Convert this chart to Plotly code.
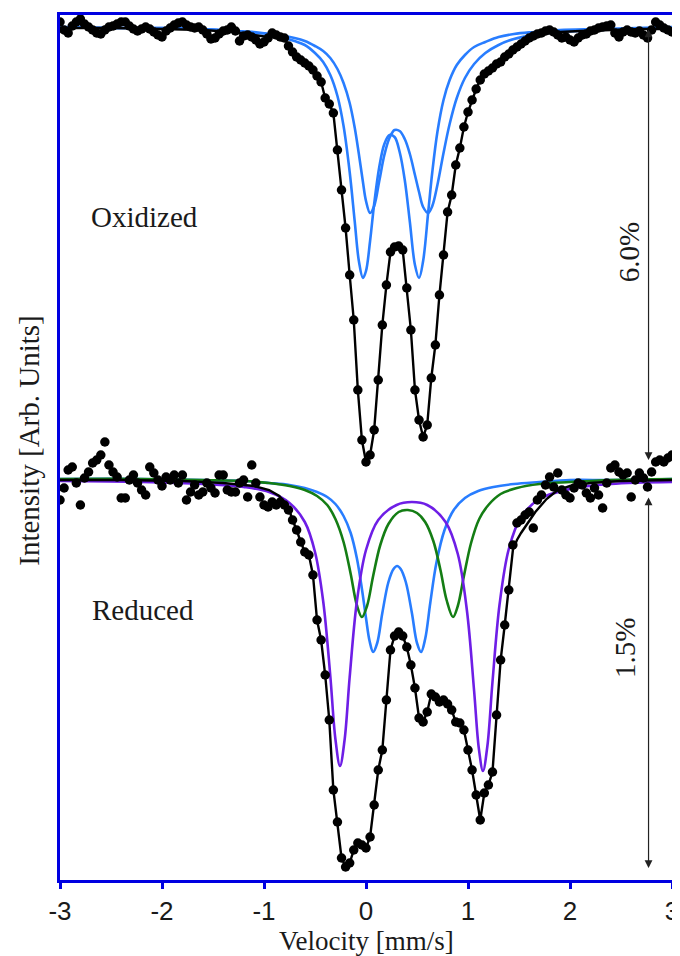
import plotly.graph_objects as go

# ---------------- data ----------------
velocity = [
    -3.00, -2.96, -2.92, -2.88, -2.84, -2.80, -2.76, -2.72, -2.68, -2.64,
    -2.60, -2.56, -2.52, -2.48, -2.44, -2.40, -2.36, -2.32, -2.28, -2.24,
    -2.20, -2.16, -2.12, -2.08, -2.04, -2.00, -1.96, -1.92, -1.88, -1.84,
    -1.80, -1.76, -1.72, -1.68, -1.64, -1.60, -1.56, -1.52, -1.48, -1.44,
    -1.40, -1.36, -1.32, -1.28, -1.24, -1.20, -1.16, -1.12, -1.08, -1.04,
    -1.00, -0.96, -0.92, -0.88, -0.84, -0.80, -0.76, -0.72, -0.68, -0.64,
    -0.60, -0.56, -0.52, -0.48, -0.44, -0.40, -0.36, -0.32, -0.28, -0.24,
    -0.20, -0.16, -0.12, -0.08, -0.04, 0.00, 0.04, 0.08, 0.12, 0.16,
    0.20, 0.24, 0.28, 0.32, 0.36, 0.40, 0.44, 0.48, 0.52, 0.56,
    0.60, 0.64, 0.68, 0.72, 0.76, 0.80, 0.84, 0.88, 0.92, 0.96,
    1.00, 1.04, 1.08, 1.12, 1.16, 1.20, 1.24, 1.28, 1.32, 1.36,
    1.40, 1.44, 1.48, 1.52, 1.56, 1.60, 1.64, 1.68, 1.72, 1.76,
    1.80, 1.84, 1.88, 1.92, 1.96, 2.00, 2.04, 2.08, 2.12, 2.16,
    2.20, 2.24, 2.28, 2.32, 2.36, 2.40, 2.44, 2.48, 2.52, 2.56,
    2.60, 2.64, 2.68, 2.72, 2.76, 2.80, 2.84, 2.88, 2.92, 2.96,
    3.00,
]

# Oxidized spectrum (arb. units, stacked on top)
oxidized = [
    858, 850, 847, 854, 858, 861, 856, 853, 850, 847,
    846, 850, 853, 854, 856, 858, 858, 854, 851, 849,
    851, 853, 851, 848, 845, 843, 849, 852, 855, 857,
    858, 855, 853, 852, 853, 850, 846, 841, 842, 846,
    849, 850, 853, 849, 839, 844, 845, 843, 840, 836,
    838, 842, 847, 845, 843, 842, 834, 828, 823, 820,
    817, 814, 810, 804, 798, 782, 776, 767, 730, 690,
    652, 605, 560, 490, 440, 418, 425, 450, 500, 555,
    595, 628, 633, 634, 630, 592, 550, 490, 460, 443,
    455, 502, 535, 585, 625, 668, 685, 715, 732, 753,
    768, 780, 791, 800, 806, 809, 812, 816, 818, 823,
    826, 830, 833, 836, 839, 842, 844, 846, 847, 849,
    850, 848, 845, 842, 843, 840, 838, 842, 845, 846,
    849, 850, 852, 853, 854, 855, 847, 843, 848, 850,
    848, 847, 849, 845, 842, 850, 858, 855, 852, 850,
    848,
]

# Reduced spectrum (arb. units, stacked below)
reduced = [
    380, 392, 410, 413, 397, 375, 402, 408, 417, 420,
    425, 438, 415, 408, 403, 382, 382, 400, 405, 397,
    390, 385, 413, 407, 400, 394, 403, 400, 405, 397,
    405, 380, 388, 395, 385, 388, 397, 392, 387, 405,
    405, 390, 388, 388, 397, 400, 383, 415, 397, 383,
    375, 373, 378, 375, 378, 375, 370, 360, 350, 338,
    328, 325, 305, 260, 240, 205, 160, 90, 58, 22,
    13, 17, 30, 37, 35, 32, 43, 75, 110, 130,
    180, 230, 244, 248, 244, 233, 215, 192, 162, 158,
    168, 186, 183, 178, 180, 176, 170, 158, 157, 150,
    130, 110, 85, 60, 87, 95, 108, 165, 220, 255,
    290, 335, 357, 360, 365, 368, 352, 380, 385, 395,
    403, 393, 407, 390, 385, 382, 392, 397, 395, 387,
    382, 392, 385, 372, 397, 412, 415, 408, 405, 407,
    383, 400, 407, 402, 393, 408, 418, 420, 418, 422,
    425,
]

# total-fit wings (the fit follows the data inside the absorption region)
ox_fit_left_v = [-3.0, -2.5, -2.0, -1.6, -1.3, -1.1, -0.96, -0.88]
ox_fit_left_y = [852, 852, 851, 850, 848, 845, 843, 843]
ox_fit_right_v = [1.9, 2.1, 2.4, 2.7, 3.0]
ox_fit_right_y = [848, 849, 850, 851, 851]

red_fit_left_v = [-3.0, -2.4, -1.8, -1.4, -1.1, -0.95, -0.85, -0.76]
red_fit_left_y = [400, 400, 399, 397, 394, 390, 384, 372]
red_fit_right_v = [1.44, 1.48, 1.52, 1.58, 1.66, 1.77, 1.88, 2.0, 2.2, 2.5, 3.0]
red_fit_right_y = [330, 340, 347, 356, 368, 381, 390, 394, 397, 399, 400]

# Oxidized sub-spectra (two blue doublets)
ox_comp_v = [-3.0, -2.4, -2.0, -1.6, -1.3, -1.1, -0.95, -0.8, -0.7, -0.6,
             -0.5, -0.42, -0.35, -0.28, -0.22, -0.16, -0.11, -0.07, -0.03, 0.0,
             0.04, 0.08, 0.13, 0.18, 0.23, 0.28, 0.33, 0.38, 0.43, 0.48,
             0.52, 0.56, 0.61, 0.65, 0.70, 0.76, 0.82, 0.89, 0.97, 1.06,
             1.17, 1.3, 1.45, 1.65, 1.9, 2.3, 3.0]
ox_doublet1 = [853, 852, 852, 851, 849, 847, 846, 842, 839, 835,
               827, 818, 805, 784, 754, 708, 658, 619, 602, 609,
               639, 676, 713, 736, 745, 743, 728, 700, 658, 615,
               602, 619, 668, 708, 748, 780, 800, 815, 825, 833,
               838, 843, 846, 848, 850, 851, 853]
ox_doublet2 = [853, 852, 852, 851, 849, 848, 846, 844, 842, 839,
               834, 829, 822, 811, 797, 777, 752, 726, 698, 679,
               667, 674, 699, 725, 742, 750, 749, 741, 726, 705,
               688, 673, 667, 674, 695, 727, 756, 782, 802, 816,
               827, 835, 841, 845, 848, 850, 852]

# Reduced sub-spectra
red_purple_v = [-3.0, -2.2, -1.6, -1.2, -0.95, -0.75, -0.6, -0.5, -0.42, -0.35,
                -0.3, -0.255, -0.21, -0.16, -0.09, 0.0, 0.12, 0.3, 0.45, 0.6,
                0.78, 0.9, 0.99, 1.06, 1.107, 1.147, 1.19, 1.24, 1.31, 1.4,
                1.52, 1.7, 2.0, 2.4, 3.0]
red_purple = [399, 398, 396, 393, 388, 377, 358, 328, 279, 204,
              141, 114, 140, 203, 278, 330, 360, 375, 378, 375,
              358, 326, 269, 189, 131, 109, 134, 198, 276, 331,
              363, 381, 391, 396, 398]

red_green_v = [-3.0, -2.2, -1.6, -1.2, -0.95, -0.75, -0.6, -0.48, -0.38, -0.3,
               -0.22, -0.15, -0.09, -0.04, 0.01, 0.07, 0.14, 0.22, 0.32, 0.41,
               0.5, 0.58, 0.66, 0.73, 0.79, 0.853, 0.9, 0.96, 1.03, 1.11,
               1.2, 1.32, 1.48, 1.7, 2.0, 2.4, 3.0]
red_green = [401, 401, 400, 399, 397, 394, 390, 384, 375, 361,
             338, 306, 275, 263, 274, 304, 335, 356, 368, 370,
             367, 358, 339, 310, 280, 263, 274, 304, 337, 361,
             375, 386, 392, 396, 398, 400, 401]

red_blue_v = [-3.0, -2.2, -1.6, -1.2, -0.95, -0.75, -0.6, -0.48, -0.38, -0.3,
              -0.22, -0.15, -0.09, -0.04, 0.0, 0.035, 0.07, 0.11, 0.16, 0.22,
              0.27, 0.305, 0.34, 0.39, 0.45, 0.5, 0.54, 0.58, 0.63, 0.69,
              0.77, 0.86, 0.97, 1.1, 1.25, 1.45, 1.7, 2.0, 2.4, 3.0]
red_blue = [401, 401, 400, 399, 397, 395, 392, 388, 383, 376,
            364, 347, 322, 291, 262, 239, 228, 237, 267, 298,
            311, 314, 311, 298, 267, 237, 228, 241, 277, 317,
            350, 370, 382, 389, 393, 396, 398, 400, 400, 401]

x_ticks = [-3, -2, -1, 0, 1, 2, 3]

# ---------------- figure ----------------
BLUE_C = "rgb(40,125,255)"
GREEN_C = "rgb(20,125,20)"
PURPLE_C = "rgb(110,30,230)"
FRAME_C = "rgb(0,0,225)"
TXT_C = "#1a1a1a"

i0, i1 = velocity.index(-0.80), velocity.index(1.80)
ox_fit_v = ox_fit_left_v + velocity[i0:i1 + 1] + ox_fit_right_v
ox_fit_y = ox_fit_left_y + oxidized[i0:i1 + 1] + ox_fit_right_y

j0, j1 = velocity.index(-0.72), velocity.index(1.40)
red_fit_v = red_fit_left_v + velocity[j0:j1 + 1] + red_fit_right_v
red_fit_y = red_fit_left_y + reduced[j0:j1 + 1] + red_fit_right_y

fig = go.Figure()

def comp(xv, yv, color):
    fig.add_trace(go.Scatter(x=xv, y=yv, mode="lines",
                             line=dict(color=color, width=2.6, shape="spline"),
                             hoverinfo="skip", showlegend=False))

comp(ox_comp_v, ox_doublet1, BLUE_C)
comp(ox_comp_v, ox_doublet2, BLUE_C)
comp(red_blue_v, red_blue, BLUE_C)
comp(red_green_v, red_green, GREEN_C)
comp(red_purple_v, red_purple, PURPLE_C)

for fv, fy in [(ox_fit_v, ox_fit_y), (red_fit_v, red_fit_y)]:
    fig.add_trace(go.Scatter(x=fv, y=fy, mode="lines",
                             line=dict(color="black", width=2.4),
                             showlegend=False))

for yy in [oxidized, reduced]:
    fig.add_trace(go.Scatter(x=velocity, y=yy, mode="markers",
                             marker=dict(color="black", size=9.5),
                             showlegend=False))

serif = "Liberation Serif, Times New Roman, serif"
sans = "Liberation Sans, Arial, sans-serif"

annotations = [
    dict(x=-2.17, y=663, xref="x", yref="y", text="Oxidized", showarrow=False,
         font=dict(family=serif, size=29, color=TXT_C)),
    dict(x=-2.19, y=270, xref="x", yref="y", text="Reduced", showarrow=False,
         font=dict(family=serif, size=29, color=TXT_C)),
    dict(x=2.58, y=628, xref="x", yref="y", text="6.0%", showarrow=False,
         textangle=-90, font=dict(family=serif, size=29, color=TXT_C)),
    dict(x=2.54, y=232, xref="x", yref="y", text="1.5%", showarrow=False,
         textangle=-90, font=dict(family=serif, size=29, color=TXT_C)),
    dict(x=0.5, y=-0.0705, xref="paper", yref="paper", text="Velocity [mm/s]",
         showarrow=False, yanchor="middle",
         font=dict(family=serif, size=27, color=TXT_C)),
    dict(x=-0.052, y=0.508, xref="paper", yref="paper", text="Intensity [Arb. Units]",
         showarrow=False, textangle=-90, xanchor="center",
         font=dict(family=serif, size=29, color=TXT_C)),
]
for ya, yb in [(852, 420), (384, 12)]:
    annotations.append(dict(x=2.77, y=yb, ax=2.77, ay=ya, xref="x", yref="y",
                            axref="x", ayref="y", text="", showarrow=True,
                            arrowhead=2, arrowside="end+start", arrowsize=1.3,
                            arrowwidth=1.2, arrowcolor="#222"))

# the page body has an 8 px margin, so the figure is sized/margined to compensate
fig.update_layout(
    width=672, height=956,
    margin=dict(l=52, r=8, t=7, b=84, autoexpand=False),
    paper_bgcolor="white", plot_bgcolor="white",
    showlegend=False,
    annotations=annotations,
    xaxis=dict(range=[-3, 3], tickvals=x_ticks, ticktext=[str(t) for t in x_ticks],
               showgrid=False, zeroline=False, automargin=False,
               ticklabeloverflow="allow",
               showline=True, linecolor=FRAME_C, linewidth=2.5, mirror=True,
               ticks="outside", ticklen=6, tickwidth=2.5, tickcolor=FRAME_C,
               tickfont=dict(family=sans, size=26, color=TXT_C)),
    yaxis=dict(range=[0, 865], showgrid=False, zeroline=False, showticklabels=False,
               automargin=False,
               showline=True, linecolor=FRAME_C, linewidth=2.5, mirror=True, ticks=""),
)

fig.write_html("out.html")
